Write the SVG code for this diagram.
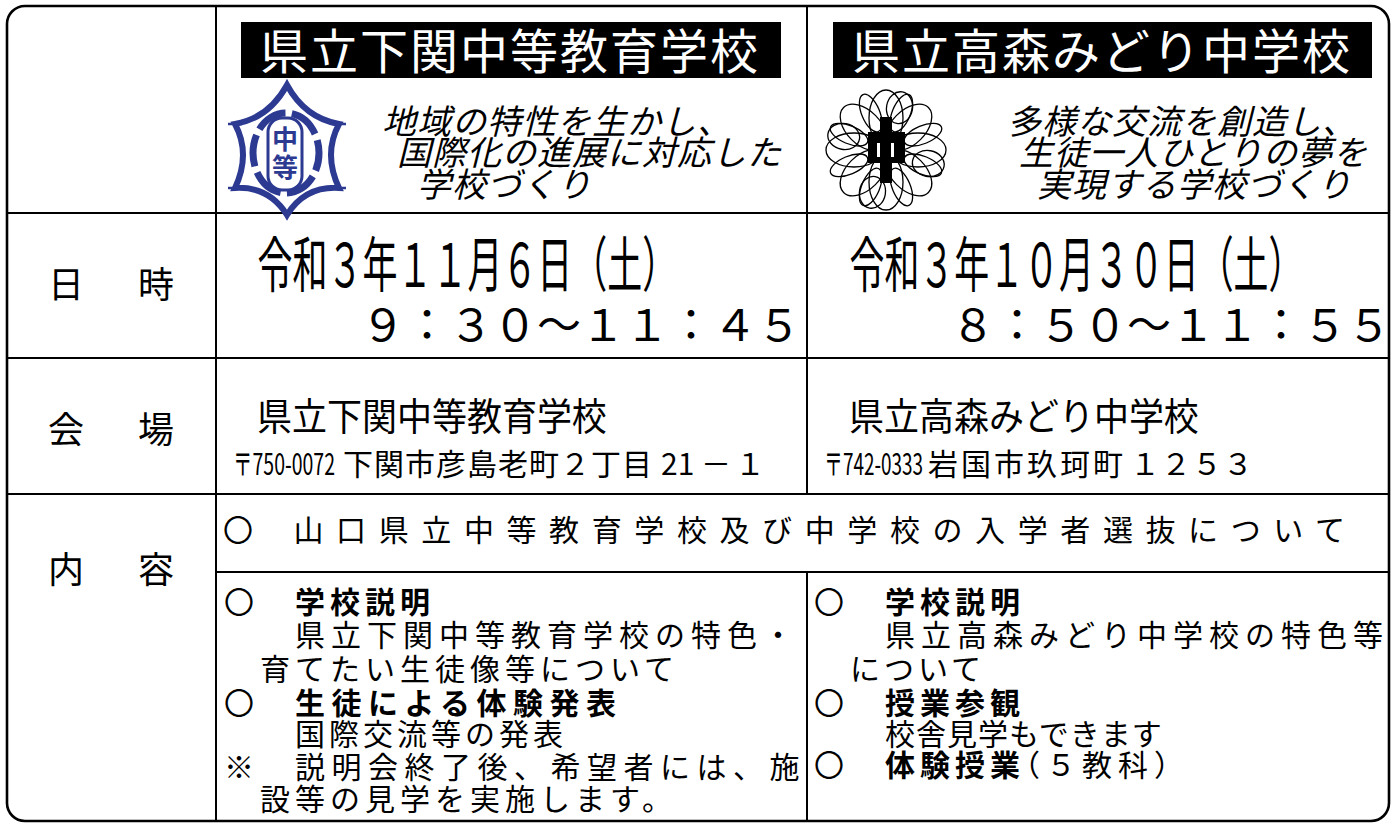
<svg xmlns="http://www.w3.org/2000/svg" width="1392" height="823" viewBox="0 0 1392 823">
<style>
.t{font-family:"Noto Sans CJK JP","Noto Sans CJK SC",sans-serif;fill:#000}
.b{font-weight:700}
.it{font-style:italic;font-size:34px}
.body{font-size:30px}
.grid{stroke:#000;stroke-width:2;fill:none}
.lab{font-size:36px}
.blue{fill:none;stroke:#2c3a92}
.petal{fill:none;stroke:#000;stroke-width:1.3}
</style>
<rect width="1392" height="823" fill="#fff"/>

<g id="grid" class="grid">
  <rect x="7" y="6" width="1382" height="815" rx="18" stroke-width="2.6"/>
  <line x1="216" y1="6" x2="216" y2="821"/>
  <line x1="807" y1="6" x2="807" y2="494"/>
  <line x1="807" y1="572" x2="807" y2="821"/>
  <line x1="7" y1="213" x2="1389" y2="213"/>
  <line x1="7" y1="358" x2="1389" y2="358"/>
  <line x1="7" y1="494" x2="1389" y2="494"/>
  <line x1="216" y1="572" x2="1389" y2="572"/>
</g>

<g id="header-shimonoseki">
  <rect x="241" y="22" width="540" height="56" fill="#000"/>
  <text class="t" x="260" y="69" font-size="48" letter-spacing="2" style="fill:#fff">県立下関中等教育学校</text>
  <g id="logo-shimonoseki">
    <path class="blue" stroke-width="6" d="M287,85 Q305,118 339,124 Q323,154 339,188 Q305,186 287,215 Q269,186 235,188 Q251,154 235,124 Q269,118 287,85 Z"/>
    <path class="blue" stroke-width="2.5" d="M228,124 H242 M332,124 H346 M228,188 H242 M332,188 H346"/>
    <ellipse class="blue" cx="286" cy="153" rx="33" ry="40" stroke-width="7" stroke-dasharray="32 6.4" stroke-dashoffset="14"/>
    <rect class="blue" x="268" y="118" width="34" height="72" rx="14" stroke-width="3"/>
    <text class="t b" x="285" y="149" font-size="26" text-anchor="middle" style="fill:#2c3a92">中</text>
    <text class="t b" x="285" y="177" font-size="26" text-anchor="middle" style="fill:#2c3a92">等</text>
  </g>
  <text class="t it" x="382" y="134" letter-spacing="1">地域の特性を生かし、</text>
  <text class="t it" x="397" y="165" letter-spacing="1">国際化の進展に対応した</text>
  <text class="t it" x="417" y="197" letter-spacing="1">学校づくり</text>
</g>

<g id="header-takamori">
  <rect x="833" y="22" width="539" height="56" fill="#000"/>
  <text class="t" x="852" y="69" font-size="48" letter-spacing="2" style="fill:#fff">県立高森みどり中学校</text>
  <g id="logo-takamori" transform="translate(886 150)">
    <ellipse class="petal" cx="32" cy="0" rx="28" ry="17" transform="rotate(0)"/>
    <ellipse class="petal" cx="32" cy="0" rx="28" ry="17" transform="rotate(45)"/>
    <ellipse class="petal" cx="32" cy="0" rx="28" ry="17" transform="rotate(90)"/>
    <ellipse class="petal" cx="32" cy="0" rx="28" ry="17" transform="rotate(135)"/>
    <ellipse class="petal" cx="32" cy="0" rx="28" ry="17" transform="rotate(180)"/>
    <ellipse class="petal" cx="32" cy="0" rx="28" ry="17" transform="rotate(225)"/>
    <ellipse class="petal" cx="32" cy="0" rx="28" ry="17" transform="rotate(270)"/>
    <ellipse class="petal" cx="32" cy="0" rx="28" ry="17" transform="rotate(315)"/>
    <ellipse class="petal" cx="40" cy="0" rx="20" ry="9" transform="rotate(22.5)"/>
    <ellipse class="petal" cx="40" cy="0" rx="20" ry="9" transform="rotate(67.5)"/>
    <ellipse class="petal" cx="40" cy="0" rx="20" ry="9" transform="rotate(112.5)"/>
    <ellipse class="petal" cx="40" cy="0" rx="20" ry="9" transform="rotate(157.5)"/>
    <ellipse class="petal" cx="40" cy="0" rx="20" ry="9" transform="rotate(202.5)"/>
    <ellipse class="petal" cx="40" cy="0" rx="20" ry="9" transform="rotate(247.5)"/>
    <ellipse class="petal" cx="40" cy="0" rx="20" ry="9" transform="rotate(292.5)"/>
    <ellipse class="petal" cx="40" cy="0" rx="20" ry="9" transform="rotate(337.5)"/>
    <ellipse class="petal" cx="44" cy="6" rx="16" ry="13" transform="rotate(10)"/>
    <ellipse class="petal" cx="44" cy="6" rx="16" ry="13" transform="rotate(100)"/>
    <ellipse class="petal" cx="44" cy="6" rx="16" ry="13" transform="rotate(190)"/>
    <ellipse class="petal" cx="44" cy="6" rx="16" ry="13" transform="rotate(280)"/>
    <rect x="-6" y="-33" width="12" height="66" fill="#000"/>
    <rect x="-18" y="-18" width="37" height="31" fill="#000"/>
    <rect x="-9" y="-7" width="3" height="14" fill="#fff"/>
    <rect x="5" y="-7" width="3" height="14" fill="#fff"/>
  </g>
  <text class="t it" x="1007" y="134" letter-spacing="1">多様な交流を創造し、</text>
  <text class="t it" x="1019" y="165" letter-spacing="1">生徒一人ひとりの夢を</text>
  <text class="t it" x="1037" y="197" letter-spacing="1">実現する学校づくり</text>
</g>

<g id="row-datetime">
  <text class="t lab" x="48" y="298">日</text>
  <text class="t lab" x="138" y="298">時</text>
  <text class="t" font-size="60" transform="translate(257.5 287) scale(0.583 1)">令和３年１１月６日（土）</text>
  <text class="t" x="361" y="341" font-size="44">９：３０～１１：４５</text>
  <text class="t" font-size="60" transform="translate(849.5 287) scale(0.582 1)">令和３年１０月３０日（土）</text>
  <text class="t" x="951" y="341" font-size="44">８：５０～１１：５５</text>
</g>

<g id="row-venue">
  <text class="t lab" x="48" y="443">会</text>
  <text class="t lab" x="138" y="443">場</text>
  <text class="t" font-size="38" transform="translate(257 430) scale(0.921 1)">県立下関中等教育学校</text>
  <text class="t" x="233" y="475" font-size="30" textLength="102" lengthAdjust="spacingAndGlyphs">〒750-0072</text>
  <text class="t" x="343" y="475" font-size="30" letter-spacing="1">下関市彦島老町２丁目</text>
  <text class="t" x="661" y="475" font-size="30">21</text>
  <text class="t" x="701" y="475" font-size="30" letter-spacing="4">－１</text>
  <text class="t" font-size="38" transform="translate(849 430) scale(0.921 1)">県立高森みどり中学校</text>
  <text class="t" x="824" y="475" font-size="30" textLength="99" lengthAdjust="spacingAndGlyphs">〒742-0333</text>
  <text class="t" x="928" y="475" font-size="30" letter-spacing="3">岩国市玖珂町</text>
  <text class="t" x="1130" y="475" font-size="30" letter-spacing="1">１２５３</text>
</g>

<g id="row-content">
  <text class="t lab" x="48" y="583">内</text>
  <text class="t lab" x="138" y="583">容</text>
  <text class="t body" x="223" y="541">〇</text>
  <text class="t body" x="293.5" y="541" letter-spacing="12.6">山口県立中等教育学校及び中学校の入学者選抜について</text>
</g>

<g id="content-shimonoseki" class="t body">
  <text x="224" y="613">〇</text>
  <text class="b" x="295" y="613" letter-spacing="5">学校説明</text>
  <text x="295" y="646" letter-spacing="6">県立下関中等教育学校の特色・</text>
  <text x="260" y="680" letter-spacing="5">育てたい生徒像等について</text>
  <text x="224" y="714">〇</text>
  <text class="b" x="295" y="714" letter-spacing="6.5">生徒による体験発表</text>
  <text x="295" y="745" letter-spacing="4">国際交流等の発表</text>
  <text x="224" y="778">※</text>
  <text x="295" y="778" letter-spacing="6.5">説明会終了後、希望者には、施</text>
  <text x="260" y="810" letter-spacing="5">設等の見学を実施します。</text>
</g>

<g id="content-takamori" class="t body">
  <text x="814" y="613">〇</text>
  <text class="b" x="885" y="613" letter-spacing="5">学校説明</text>
  <text x="885" y="646" letter-spacing="6">県立高森みどり中学校の特色等</text>
  <text x="850" y="680" letter-spacing="4">について</text>
  <text x="814" y="714">〇</text>
  <text class="b" x="885" y="714" letter-spacing="5">授業参観</text>
  <text x="885" y="745" letter-spacing="1">校舎見学もできます</text>
  <text x="814" y="776">〇</text>
  <text class="b" x="885" y="776" letter-spacing="5">体験授業</text>
  <text x="1010" y="776" letter-spacing="6">（５教科）</text>
</g>
</svg>
